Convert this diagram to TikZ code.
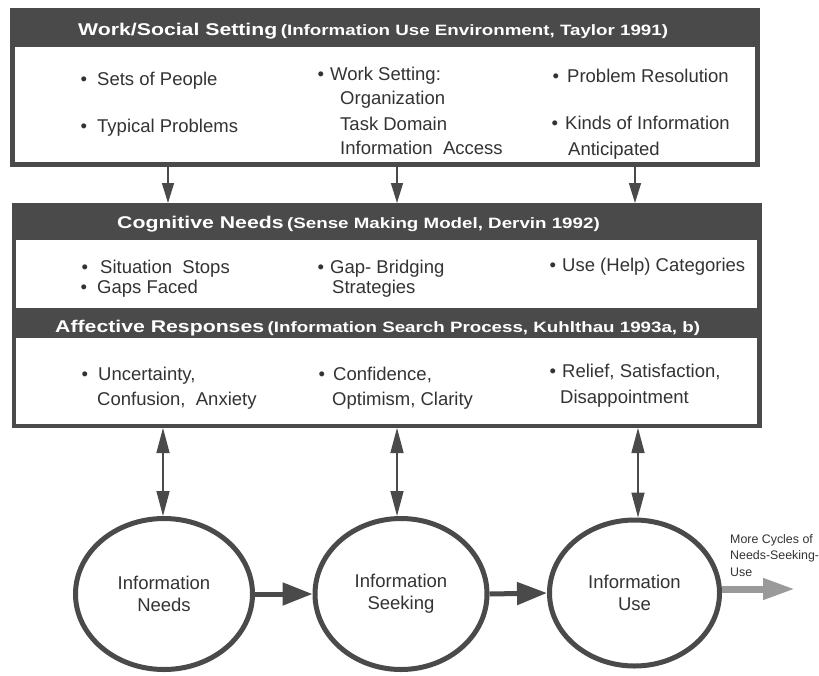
\documentclass[tikz,border=0pt]{standalone}
\usepackage{fontspec}
\setmainfont{Liberation Sans}
\newfontfamily\hdfont[FakeStretch=1.25]{Liberation Sans}
\usetikzlibrary{arrows.meta,shapes.geometric}
\definecolor{frame}{HTML}{4A4A4A}
\definecolor{ink}{HTML}{333333}
\definecolor{cyc}{HTML}{9A9A9A}
\newcommand\bul[1]{\llap{\textbullet\hspace{#1pt}}}
\newcommand\bodysize{\fontsize{18.5}{22}\selectfont}
\newcommand\hdbig{\fontsize{17}{20}\selectfont}
\newcommand\hdsmall{\fontsize{15}{17}\selectfont}
\begin{document}
\begin{tikzpicture}[x=1pt,y=-1pt,
  darkbox/.style={fill=frame,draw=none,inner sep=0pt,outer sep=0pt},
  whitebox/.style={fill=white,draw=none,inner sep=0pt,outer sep=0pt},
  hdtext/.style={text=white,font=\hdfont\bfseries,inner sep=0pt,anchor=base west},
  body/.style={text=ink,font=\bodysize,inner sep=0pt,anchor=base west},
  conn/.style={draw=frame,line width=1.5pt},
  twoway/.style={conn,{Triangle[length=25pt,width=13pt]}-{Triangle[length=25pt,width=13pt]}},
  oneway/.style={conn,-{Triangle[length=20pt,width=12pt]}},
  flow/.style={draw=frame,line width=5pt,-{Triangle[length=30pt,width=22pt]}},
  stage/.style={ellipse,draw=frame,line width=5pt,fill=white,inner sep=0pt,text=ink,font=\bodysize,align=center},
  cycle/.style={draw=cyc,line width=7pt,-{Triangle[length=32pt,width=20pt]}}]
\useasboundingbox (0,0) rectangle (819,675);
\fill[white] (0,0) rectangle (819,675);

% --- Box 1: Work/Social Setting
\node[darkbox,minimum width=750pt,minimum height=159pt] (box1) at (385,87.5) {};
\node[whitebox,minimum width=740pt,minimum height=115pt] (box1in) at (385,104.5) {};
\node[hdtext] (h1) at (78,35) {{\hdbig Work/Social Setting} {\hdsmall (Information Use Environment, Taylor 1991)}};
\node[body] (w1) at (97,85) {\bul{10}Sets of People};
\node[body] (w2) at (97,132) {\bul{10}Typical Problems};
\node[body] (w3) at (330,80) {\bul{6}Work Setting:};
\node[body] (w4) at (340,104) {Organization};
\node[body] (w5) at (340,130) {Task Domain};
\node[body] (w6) at (340,154) {Information\ \ Access};
\node[body] (w7) at (567,82) {\bul{8}Problem Resolution};
\node[body] (w8) at (565,129) {\bul{7}Kinds of Information};
\node[body] (w9) at (568,155) {Anticipated};

% --- Box 2: Cognitive Needs + Affective Responses
\node[darkbox,minimum width=750pt,minimum height=225pt] (box2) at (387,315.5) {};
\node[whitebox,minimum width=741pt,minimum height=68pt] (cogin) at (386.5,274) {};
\node[whitebox,minimum width=741pt,minimum height=86pt] (affin) at (386.5,381) {};
\node[hdtext] (h2) at (117,228) {{\hdbig Cognitive Needs} {\hdsmall (Sense Making Model, Dervin 1992)}};
\node[hdtext] (h3) at (55,332) {{\hdbig Affective Responses} {\hdsmall (Information Search Process, Kuhlthau 1993a, b)}};
\node[body] (c1t) at (100,273) {\bul{12}Situation\ \ Stops};
\node[body] (c2t) at (97,293) {\bul{10}Gaps\ Faced};
\node[body] (c3t) at (330,273) {\bul{6}Gap-\ Bridging};
\node[body] (c4t) at (332,293) {Strategies};
\node[body] (c5t) at (562,271) {\bul{6}Use (Help) Categories};
\node[body] (a1t) at (98,380) {\bul{10}Uncertainty,};
\node[body] (a2t) at (97,405) {Confusion,\ \ Anxiety};
\node[body] (a3t) at (333,380) {\bul{8}Confidence,};
\node[body] (a4t) at (332,405) {Optimism, Clarity};
\node[body] (a5t) at (562,377) {\bul{6}Relief, Satisfaction,};
\node[body] (a6t) at (560,403) {Disappointment};

% --- Stages
\node[stage,minimum width=177pt,minimum height=151pt] (e1) at (164,594) {Information\\Needs};
\node[stage,minimum width=172pt,minimum height=151pt] (e2) at (401,594) {Information\\Seeking};
\node[stage,minimum width=170pt,minimum height=146pt] (e3) at (634.5,593) {Information\\Use};

% --- Connector columns
\coordinate (k1) at (168,0);
\coordinate (k2) at (397,0);
\coordinate (k3) at (635,0);
\coordinate (d1) at (163,0);
\coordinate (d2) at (397,0);
\coordinate (d3) at (638,0);

\draw[oneway] (box1.south -| k1) -- (box2.north -| k1);
\draw[oneway] (box1.south -| k2) -- (box2.north -| k2);
\draw[oneway] (box1.south -| k3) -- (box2.north -| k3);

\draw[twoway] (box2.south -| d1) -- (e1.north -| d1);
\draw[twoway] (box2.south -| d2) -- (e2.north -| d2);
\draw[twoway] (box2.south -| d3) -- (e3.north -| d3);

\draw[flow] (e1.east) -- (e2.west);
\draw[flow] (e2.east) -- (e3.west);

\coordinate (more) at (795,589);
\draw[cycle] (more -| e3.east) -- (more);
\node[anchor=north west,inner sep=0pt,align=left,text=ink,
      font=\fontsize{12.4}{16.5}\selectfont] (mc) at (730,534)
  {More Cycles of\\Needs-Seeking-\\Use};
\end{tikzpicture}
\end{document}
